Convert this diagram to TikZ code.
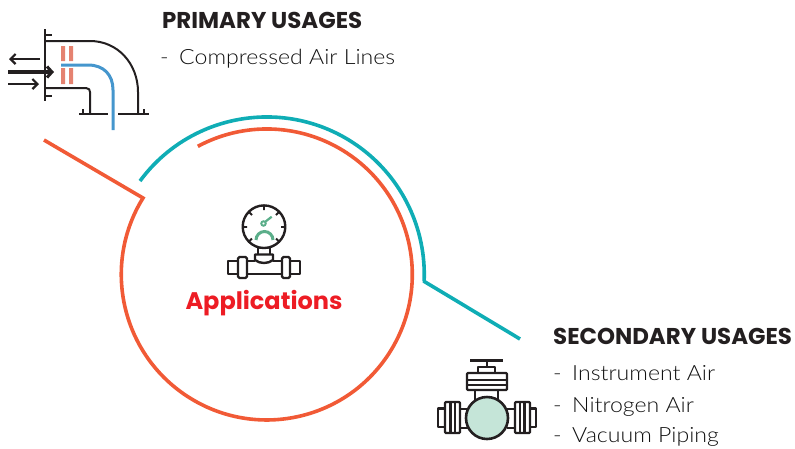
\documentclass[tikz,border=0pt]{standalone}
\usepackage{fontspec}
\setmainfont{Poppins}
\newfontfamily\itemfont[FakeStretch=1.1]{Lato Light}
\definecolor{orangeline}{HTML}{F15A36}
\definecolor{tealline}{HTML}{0FADB5}
\definecolor{ink}{HTML}{231F20}
\definecolor{pipeblue}{HTML}{4596CD}
\definecolor{salmon}{HTML}{E58270}
\definecolor{gaugegreen}{HTML}{5BAE8A}
\definecolor{valvefill}{HTML}{C5E5D8}
\definecolor{appred}{HTML}{ED1C24}
\definecolor{txt}{HTML}{111111}
\usetikzlibrary{arrows.meta}
\tikzset{
  ringline/.style={line width=3.6pt,line cap=butt,line join=miter},
  iconline/.style={draw=ink,line width=2.4pt,line join=round},
  pipeline/.style={draw=ink,line width=2pt,line join=round},
  heading/.style={anchor=base west,inner sep=0pt,font=\fontsize{22.9}{26}\selectfont\bfseries,text=ink},
  item/.style={anchor=base west,inner sep=0pt,font=\itemfont\fontsize{21}{24}\selectfont,text=txt},
  arrowtip/.style={-{Straight Barb[length=5pt,width=10pt,line width=2.2pt]}},
}
\begin{document}
\begin{tikzpicture}[x=1pt,y=-1pt]
\useasboundingbox (0,0) rectangle (795,448);
% rings
\draw[ringline,orangeline] (44,140) -- (143,198) arc[start angle=-211.7,end angle=118.3,x radius=145.5,y radius=-145.5];
\draw[ringline,tealline] (140,181) arc[start angle=143.6,end angle=-2.5,x radius=157.5,y radius=-157.5] -- (423.5,281) -- (520,339);
% pipe icon
\fill[salmon] (61,46) rectangle (65,61) (69,46) rectangle (73,61) (61,68) rectangle (65,84) (69,68) rectangle (73,84);
\draw[pipeline] (45,29) -- (45,101) (45,35) -- (52,35) (45,96) -- (52,96);
\draw[pipeline] (45,41) -- (90,41) .. controls (118,41) and (138,64) .. (138,92) -- (138,114);
\draw[pipeline] (45,88) -- (86,88) .. controls (89,88) and (90,90) .. (90,92) -- (90,114);
\draw[pipeline] (79,114) -- (108,114) (118,114) -- (149,114) (83,109) -- (83,114) (144,109) -- (144,114);
\draw[draw=pipeblue,line width=3pt] (61,65) -- (88,65) .. controls (104,65) and (113,75) .. (113,90) -- (113,130);
\draw[pipeline,line width=2.4pt,arrowtip] (40,59) -- (9,59);
\draw[pipeline,line width=3.6pt,-{Straight Barb[length=5pt,width=11pt,line width=3pt]}] (8,72) -- (54,72);
\draw[pipeline,line width=2.4pt,arrowtip] (8,84) -- (39,84);
% gauge icon
\draw[iconline] (264,226.7) circle[radius=21.3];
\draw[iconline,line width=1.8pt] (264,206) -- (264,210) (243,227) -- (247,227) (285,227) -- (281,227)
  (249,212) -- (252,215) (279,212) -- (276,215) (249,241.5) -- (252,238.5) (279,241.5) -- (276,238.5);
\draw[draw=gaugegreen,line width=2.2pt] (271.7,216.7) -- (265,222);
\draw[draw=gaugegreen,line width=2pt] (263.5,223.5) circle[radius=2.2];
\draw[draw=gaugegreen,line width=3pt] (256,240) arc[start angle=180,end angle=0,x radius=8.5,y radius=-8.5];
\draw[iconline] (258,247) -- (258,254) (270,247) -- (270,254);
\draw[iconline,fill=white] (255,254.5) -- (273,254.5) -- (273,260) .. controls (268,264) and (260,264) .. (255,260) -- cycle;
\draw[iconline] (247,261) -- (255,261) (273,261) -- (282,261) (247,274) -- (282,274);
\draw[iconline,rounded corners=1.5pt] (238,257) rectangle (247,278);
\draw[iconline,rounded corners=1.5pt] (282,257) rectangle (290,278);
\draw[iconline] (228,261) rectangle (238,274) (290,261) rectangle (300,274);
% valve icon
\draw[iconline] (470,360.5) -- (503,360.5) (487,361) -- (487,367);
\draw[iconline] (478,373) -- (478,367) -- (495,367) -- (495,373);
\draw[iconline,rounded corners=1pt] (467,373) rectangle (507,390);
\draw[iconline] (467,380) -- (507,380) (467,385) -- (507,385);
\draw[iconline] (475,390) -- (475,402) (498,390) -- (498,402);
\draw[iconline] (438,408.5) rectangle (445,427) (530,408.5) rectangle (536,427);
\draw[iconline,rounded corners=1pt] (445,402) rectangle (460,433);
\draw[iconline,rounded corners=1pt] (515,402) rectangle (530,433);
\draw[iconline] (450.5,402) -- (450.5,433) (455,402) -- (455,433) (520,402) -- (520,433) (524.5,402) -- (524.5,433);
\draw[iconline] (460,409) -- (468,409) (460,428) -- (468,428) (507,409) -- (515,409) (507,428) -- (515,428);
\draw[iconline,line width=2.6pt,fill=valvefill] (487,418) circle[radius=21];
% texts
\node[heading] (t1) at (162,28.5) {PRIMARY USAGES};
\node[item] (t2) at (160,64) {-\hspace{10.5pt}Compressed Air Lines};
\node[heading] (t3) at (553,344.5) {SECONDARY USAGES};
\node[item] (t4) at (553,380) {-\hspace{10.5pt}Instrument Air};
\node[item] (t5) at (553,412) {-\hspace{10.5pt}Nitrogen Air};
\node[item] (t6) at (553,442.5) {-\hspace{10.5pt}Vacuum Piping};
\node[anchor=base,inner sep=0pt,font=\fontsize{24}{30}\selectfont\bfseries,text=appred] (t7) at (264,309.5) {Applications};
\end{tikzpicture}
\end{document}
